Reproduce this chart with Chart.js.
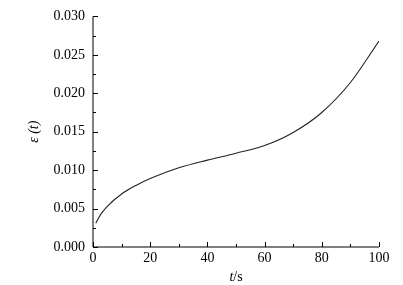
<!DOCTYPE html>
<html>
<head>
<meta charset="utf-8">
<script src="https://cdn.jsdelivr.net/npm/chart.js@4/dist/chart.umd.min.js"></script>
<style>
  html, body { margin: 0; padding: 0; background: #fff; }
  #wrap { width: 403px; height: 285px; }
</style>
</head>
<body>
<div id="wrap"><canvas id="c" width="403" height="285"></canvas></div>
<script>
// strain curve
const tValues = [1, 2, 3, 5, 10, 15, 20, 30, 40, 50, 60, 70, 80, 90, 100];
const epsValues = [0.0031, 0.0038, 0.0044, 0.0053, 0.0069, 0.0080, 0.0089, 0.0103, 0.0113, 0.0122, 0.0132, 0.0149, 0.0175, 0.0214, 0.0268];
const xTicks = [0, 20, 40, 60, 80, 100];
const yTicks = [0, 0.005, 0.01, 0.015, 0.02, 0.025, 0.03];

const serif = "'Liberation Serif', 'DejaVu Serif', serif";

// draws the two axis lines with inward major and minor ticks, plus the x title
const axisPlugin = {
  id: 'axisPlugin',
  afterDraw(chart) {
    const ctx = chart.ctx;
    const xs = chart.scales.x;
    const ys = chart.scales.y;
    const left = xs.getPixelForValue(0);
    const bottom = ys.getPixelForValue(0);
    ctx.save();
    ctx.strokeStyle = '#000';
    ctx.lineWidth = 1;
    ctx.beginPath();
    ctx.moveTo(left, ys.getPixelForValue(0.03));
    ctx.lineTo(left, bottom);
    ctx.lineTo(xs.getPixelForValue(100), bottom);
    // x ticks
    for (let v = 0; v <= 100; v += 10) {
      const px = Math.round(xs.getPixelForValue(v)) + 0.5;
      const len = v % 20 === 0 ? 5 : 3;
      ctx.moveTo(px, bottom);
      ctx.lineTo(px, bottom - len);
    }
    // y ticks
    for (let i = 0; i <= 12; i++) {
      const py = Math.round(ys.getPixelForValue(i * 0.0025)) + 0.5;
      const len = i % 2 === 0 ? 5 : 3;
      ctx.moveTo(left, py);
      ctx.lineTo(left + len, py);
    }
    ctx.stroke();

    // x title: italic t, upright /s
    const cx = (xs.left + xs.right) / 2;
    const ty = 277;
    ctx.fillStyle = '#000';
    ctx.textBaseline = 'middle';
    ctx.font = 'italic 14px ' + serif;
    const wt = ctx.measureText('t').width;
    ctx.font = '14px ' + serif;
    const ws = ctx.measureText('/s').width;
    const x0 = cx - (wt + ws) / 2;
    ctx.textAlign = 'left';
    ctx.font = 'italic 14px ' + serif;
    ctx.fillText('t', x0, ty);
    ctx.font = '14px ' + serif;
    ctx.fillText('/s', x0 + wt, ty);
    ctx.restore();
  }
};

new Chart(document.getElementById('c'), {
  type: 'line',
  data: {
    datasets: [{
      data: tValues.map((t, i) => ({ x: t, y: epsValues[i] })),
      borderColor: '#222',
      borderWidth: 1.1,
      pointRadius: 0,
      fill: false,
      cubicInterpolationMode: 'monotone'
    }]
  },
  options: {
    responsive: false,
    animation: false,
    devicePixelRatio: 1,
    layout: { padding: { left: 0, right: 24, top: 15, bottom: 0 } },
    plugins: { legend: { display: false }, tooltip: { enabled: false } },
    scales: {
      x: {
        type: 'linear',
        min: 0,
        max: 100,
        afterBuildTicks(scale) { scale.ticks = xTicks.map(v => ({ value: v })); },
        afterFit(scale) { scale.height = 38; },
        grid: { display: false, drawTicks: false },
        border: { display: false },
        ticks: { color: '#000', padding: 3, maxRotation: 0, font: { family: serif, size: 14 } }
      },
      y: {
        type: 'linear',
        min: 0,
        max: 0.03,
        afterBuildTicks(scale) { scale.ticks = yTicks.map(v => ({ value: v })); },
        afterFit(scale) { scale.width = 93; },
        grid: { display: false, drawTicks: false },
        border: { display: false },
        ticks: {
          color: '#000',
          padding: 8,
          font: { family: serif, size: 14 },
          callback: v => v.toFixed(3)
        },
        title: {
          display: true,
          text: 'ε (t)',
          color: '#000',
          padding: { top: 26, bottom: 0 },
          font: { family: serif, size: 14, style: 'italic' }
        }
      }
    }
  },
  plugins: [axisPlugin]
});
</script>
</body>
</html>
